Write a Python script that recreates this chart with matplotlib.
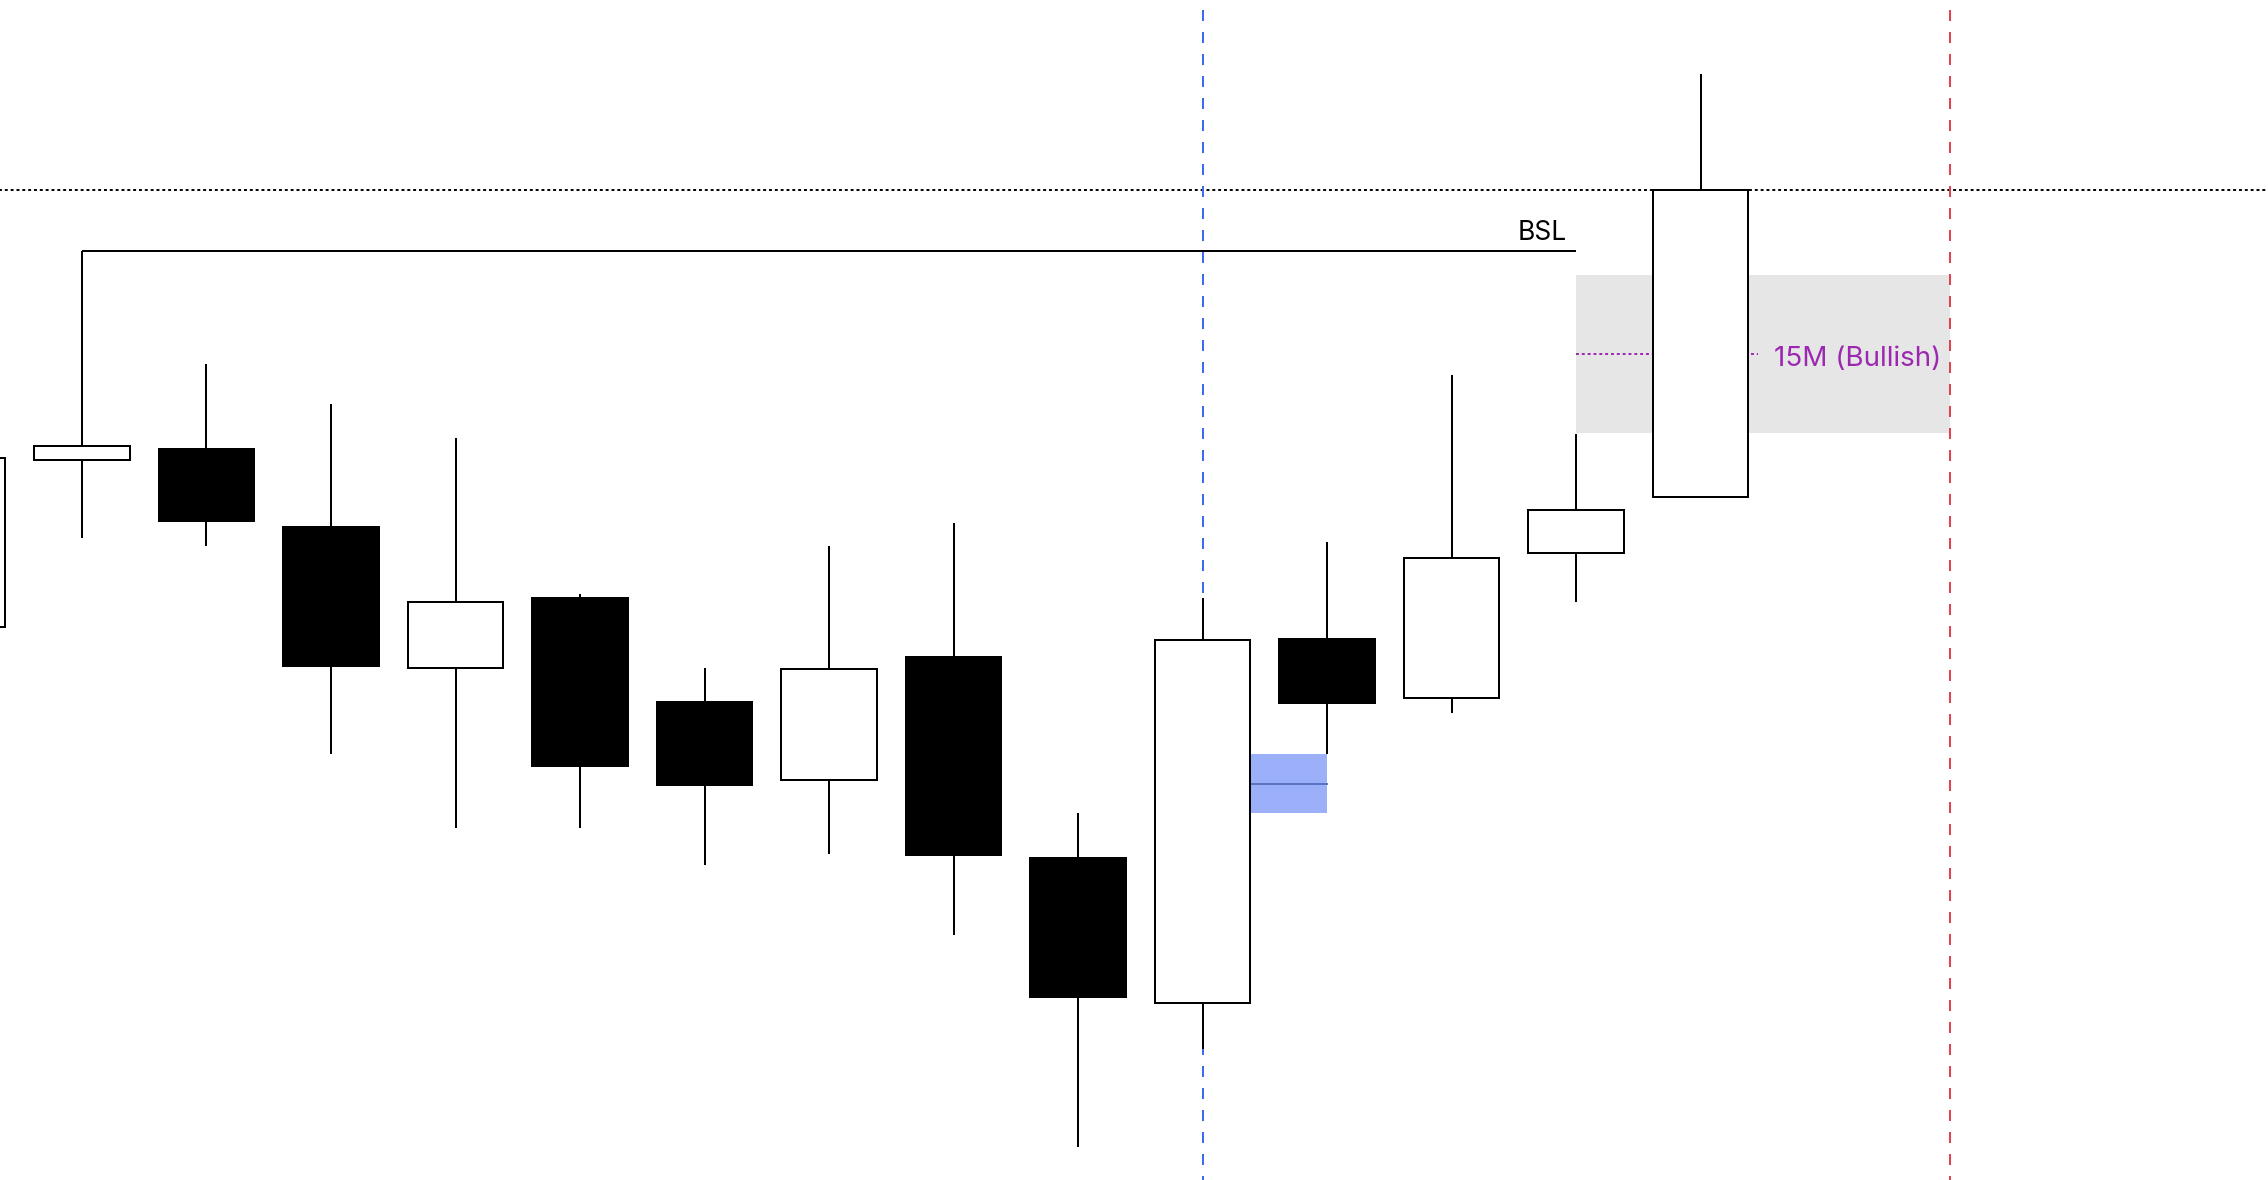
import matplotlib
matplotlib.use("Agg")
import matplotlib.pyplot as plt
from matplotlib.patches import Rectangle

# ---------------- data ----------------
# candle index (x), open, high, low, close (arbitrary price units)
idx    = [-1,    0,     1,     2,     3,     4,     5,     6,     7,     8,     9,     10,    11,    12,    13]
opens  = [55.27, 72.01, 73.08, 65.31, 51.20, 58.20, 47.80, 40.00, 52.32, 32.20, 17.70, 54.10, 48.20, 62.70, 68.33]
highs  = [76.00, 92.86, 81.61, 77.59, 74.20, 58.60, 51.20, 63.40, 65.71, 36.70, 58.20, 63.80, 80.50, 74.60, 110.60]
lows   = [52.00, 64.20, 63.40, 42.63, 35.23, 35.23, 31.50, 32.63, 24.46, 3.26,  13.10, 42.60, 46.73, 57.83, 68.33]
closes = [72.23, 73.39, 65.89, 51.43, 57.77, 41.40, 39.50, 51.12, 32.50, 18.30, 54.05, 47.73, 62.23, 67.03, 99.03]

bsl_level = 92.86          # high of candle 0
bsl_start, bsl_end = 0, 12
bsl_label = "BSL"

fvg_blue = (9, 10, 36.70, 42.60)      # x0, x1, bottom, top
fvg_grey = (12, 15, 74.73, 90.50)
grey_label = "15M (Bullish)"

hline_level = 99.03        # dotted horizontal level
blue_vline_x = 9
red_vline_x = 15

# ---------------- figure ----------------
W, H, DPI = 2268, 1180, 100
fig = plt.figure(figsize=(W / DPI, H / DPI), dpi=DPI)
ax = fig.add_axes([0, 0, 1, 1])
ax.set_axis_off()
ax.set_xlim(-0.6586, 17.558)
ax.set_ylim(0, 118)

LW = 1.44  # ~2 px
body_w = 0.77

# zones
x0, x1, b, t = fvg_grey
ax.add_patch(Rectangle((x0, b), x1 - x0, t - b, facecolor="#e6e6e6", edgecolor="none", zorder=1))
mid_g = (b + t) / 2
ax.plot([x0, 13.46], [mid_g, mid_g], color="#9C27B0", lw=1.4, linestyle=(0, (1.5, 1.5)), zorder=2)
ax.text(14.93, mid_g - 0.5, grey_label, color="#9C27B0", fontsize=20, family=["Inter", "DejaVu Sans"],
        ha="right", va="center", zorder=6)

x0, x1, b, t = fvg_blue
ax.add_patch(Rectangle((x0, b), x1 - x0, t - b, facecolor="#9BB0F9", edgecolor="none", zorder=1))
mid_b = (b + t) / 2
ax.plot([x0, x1], [mid_b, mid_b], color="#5B74C2", lw=1.44, zorder=1.5)

# dotted horizontal level
ax.plot([-1, 18], [hline_level, hline_level], color="black", lw=1.4,
        linestyle=(0, (1.5, 1.5)), zorder=2)

# vertical dashed lines
ax.plot([blue_vline_x, blue_vline_x], [118, 0], color="#3D6AF2", lw=LW,
        linestyle=(6, (5.5, 5.5)), zorder=2)
ax.plot([red_vline_x, red_vline_x], [118, 0], color="#E0434F", lw=LW,
        linestyle=(6, (5.5, 5.5)), zorder=2)

# BSL line
ax.plot([bsl_start, bsl_end], [bsl_level, bsl_level], color="black", lw=LW, zorder=3,
        solid_capstyle="butt")
ax.text(bsl_end - 0.07, bsl_level + 1.1, bsl_label, color="black", fontsize=19,
        family=["Inter", "DejaVu Sans"], ha="right", va="baseline", zorder=6)

# candles
for x, o, h, l, c in zip(idx, opens, highs, lows, closes):
    ax.plot([x, x], [l, h], color="black", lw=LW, zorder=3, solid_capstyle="butt")
    bull = c >= o
    bottom = min(o, c)
    height = abs(c - o)
    ax.add_patch(Rectangle((x - body_w / 2, bottom), body_w, height,
                           facecolor="white" if bull else "black",
                           edgecolor="black", lw=LW, zorder=4))

fig.savefig("out.png", dpi=DPI, facecolor="white")
